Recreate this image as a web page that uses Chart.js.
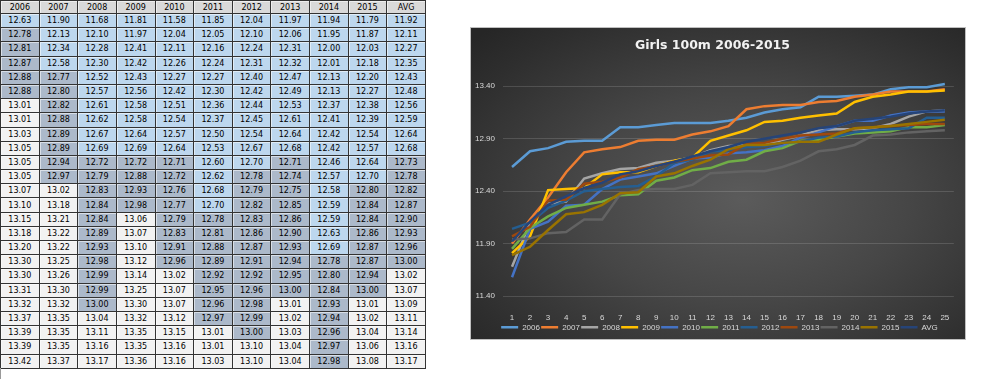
<!DOCTYPE html>
<html><head><meta charset="utf-8">
<script src="https://cdn.jsdelivr.net/npm/chart.js@4"></script>
<style>
html,body{margin:0;padding:0;background:#fff;width:1000px;height:379px;overflow:hidden;position:relative}
#tbl{position:absolute;left:0;top:0;border-collapse:collapse;table-layout:fixed;width:425px;font:8px "DejaVu Sans",sans-serif;color:#000}
#tbl th,#tbl td{border:1px solid #333;padding:0;text-align:center;vertical-align:middle;overflow:hidden;white-space:nowrap;box-shadow:inset 1px 1px 0 rgba(255,255,255,0.55)}
#tbl th{font-weight:normal;background:#d9d9d9;height:12px}
#tbl td{height:13.2px}
#tbl td.b{background:#bdd7ee}
#tbl td.g{background:#acb9ca}
#tbl td.w{background:#f2f2f2}
#sheetline{position:absolute;left:0;top:368px;width:1px;height:11px;background:#9a9a9a}
#panel{position:absolute;left:470px;top:27px;width:496px;height:313px;box-sizing:border-box;border:1px solid #bfbfbf;
 background:radial-gradient(ellipse 75% 75% at 55% 55%, #5b5b5b 0%, #464646 45%, #2e2e2e 85%, #262626 100%)}
#wrap{position:absolute;left:470px;top:27px;width:496px;height:316px}
</style></head>
<body>
<table id="tbl"></table>
<div id="sheetline"></div>
<div id="panel"></div>
<div id="wrap"><canvas id="c"></canvas></div>
<script>
const ranks = ['1','2','3','4','5','6','7','8','9','10','11','12','13','14','15','16','17','18','19','20','21','22','23','24','25'];
const seriesNames = ['2006','2007','2008','2009','2010','2011','2012','2013','2014','2015','AVG'];
const y2006 = [12.63,12.78,12.81,12.87,12.88,12.88,13.01,13.01,13.03,13.05,13.05,13.05,13.07,13.10,13.15,13.18,13.20,13.30,13.30,13.31,13.32,13.37,13.39,13.39,13.42];
const y2007 = [11.90,12.13,12.34,12.58,12.77,12.80,12.82,12.88,12.89,12.89,12.94,12.97,13.02,13.18,13.21,13.22,13.22,13.25,13.26,13.30,13.32,13.35,13.35,13.35,13.37];
const y2008 = [11.68,12.10,12.28,12.30,12.52,12.57,12.61,12.62,12.67,12.69,12.72,12.79,12.83,12.84,12.84,12.89,12.93,12.98,12.99,12.99,13.00,13.04,13.11,13.16,13.17];
const y2009 = [11.81,11.97,12.41,12.42,12.43,12.56,12.58,12.58,12.64,12.69,12.72,12.88,12.93,12.98,13.06,13.07,13.10,13.12,13.14,13.25,13.30,13.32,13.35,13.35,13.36];
const y2010 = [11.58,12.04,12.11,12.26,12.27,12.42,12.51,12.54,12.57,12.64,12.71,12.72,12.76,12.77,12.79,12.83,12.91,12.96,13.02,13.07,13.07,13.12,13.15,13.16,13.16];
const y2011 = [11.85,12.05,12.16,12.24,12.27,12.30,12.36,12.37,12.50,12.53,12.60,12.62,12.68,12.70,12.78,12.81,12.88,12.89,12.92,12.95,12.96,12.97,13.01,13.01,13.03];
const y2012 = [12.04,12.10,12.24,12.31,12.40,12.42,12.44,12.45,12.54,12.67,12.70,12.78,12.79,12.82,12.83,12.86,12.87,12.91,12.92,12.96,12.98,12.99,13.00,13.10,13.10];
const y2013 = [11.97,12.06,12.31,12.32,12.47,12.49,12.53,12.61,12.64,12.68,12.71,12.74,12.75,12.85,12.86,12.90,12.93,12.94,12.95,13.00,13.01,13.02,13.03,13.04,13.04];
const y2014 = [11.94,11.95,12.00,12.01,12.13,12.13,12.37,12.41,12.42,12.42,12.46,12.57,12.58,12.59,12.59,12.63,12.69,12.78,12.80,12.84,12.93,12.94,12.96,12.97,12.98];
const y2015 = [11.79,11.87,12.03,12.18,12.20,12.27,12.38,12.39,12.54,12.57,12.64,12.70,12.80,12.84,12.84,12.86,12.87,12.87,12.94,13.00,13.01,13.02,13.04,13.06,13.08];
const yAvg  = [11.92,12.11,12.27,12.35,12.43,12.48,12.56,12.59,12.64,12.68,12.73,12.78,12.82,12.87,12.90,12.93,12.96,13.00,13.02,13.07,13.09,13.11,13.14,13.16,13.17];
const yTicks = [11.40,11.90,12.40,12.90,13.40];
const seriesColors = ['#5B9BD5','#ED7D31','#A5A5A5','#FFC000','#4472C4','#70AD47','#255E91','#9E480E','#636363','#997300','#264478'];

const allSeries = [y2006,y2007,y2008,y2009,y2010,y2011,y2012,y2013,y2014,y2015,yAvg];

// build table
(function(){
  const t = document.getElementById('tbl');
  let h = '<colgroup>' + seriesNames.map(()=>'<col style="width:38.636px">').join('') + '</colgroup>';
  h += '<tr>' + seriesNames.map(n=>'<th>'+n+'</th>').join('') + '</tr>';
  for (let r=0;r<ranks.length;r++){
    h += '<tr>';
    for (let s=0;s<allSeries.length;s++){
      const v = allSeries[s][r];
      const cls = v <= 12.705 ? 'b' : (v <= 13.005 ? 'g' : 'w');
      h += '<td class="'+cls+'">'+v.toFixed(2)+'</td>';
    }
    h += '</tr>';
  }
  t.innerHTML = h;
})();

const legendShift = { id:'legendShift', afterLayout(chart){ const l = chart.legend; if(l){ l.left += 7; l.right += 7; } } };

new Chart(document.getElementById('c'), {
  type: 'line',
  data: {
    labels: ranks,
    datasets: seriesNames.map((n,i)=>({
      label: n,
      data: allSeries[i],
      borderColor: seriesColors[i],
      backgroundColor: seriesColors[i],
      borderWidth: 2.5,
      pointRadius: 0,
      pointHoverRadius: 0,
      tension: 0,
      fill: false,
      clip: 8,
      order: 10 - i
    }))
  },
  plugins: [legendShift],
  options: {
    responsive: true,
    maintainAspectRatio: false,
    animation: false,
    events: [],
    layout: { padding: { left: 0, right: 11, top: 0, bottom: 1.7 } },
    plugins: {
      title: {
        display: true,
        text: 'Girls 100m 2006-2015',
        color: '#F2F2F2',
        font: { family: '"DejaVu Sans", sans-serif', size: 12.5, weight: 'bold', lineHeight: 1.2 },
        padding: { top: 10.8, bottom: 33.4 }
      },
      legend: {
        position: 'bottom',
        labels: {
          color: '#D9D9D9',
          font: { family: '"Liberation Sans", sans-serif', size: 8 },
          usePointStyle: true,
          pointStyle: 'line',
          pointStyleWidth: 17,
          padding: 1.2,
          sort: (a,b) => a.datasetIndex - b.datasetIndex
        }
      },
      tooltip: { enabled: false }
    },
    scales: {
      x: {
        offset: true,
        afterFit: (scale) => { scale.height = 26; },
        grid: { display: false, drawTicks: false },
        border: { display: false },
        ticks: { color: '#D9D9D9', font: { family: '"Liberation Sans", sans-serif', size: 8 }, padding: 16.5, maxRotation: 0, autoSkip: false }
      },
      y: {
        min: yTicks[0],
        max: yTicks[yTicks.length-1],
        afterBuildTicks: (scale) => { scale.ticks = yTicks.map(v => ({ value: v })); },
        afterFit: (scale) => { scale.width = 33; },
        grid: { color: 'rgba(255,255,255,0.14)', lineWidth: 1, drawTicks: false },
        border: { display: false },
        ticks: { color: '#D9D9D9', font: { family: '"Liberation Sans", sans-serif', size: 8 }, padding: 8, callback: (v) => Number(v).toFixed(2) }
      }
    }
  }
});
</script>
</body></html>
